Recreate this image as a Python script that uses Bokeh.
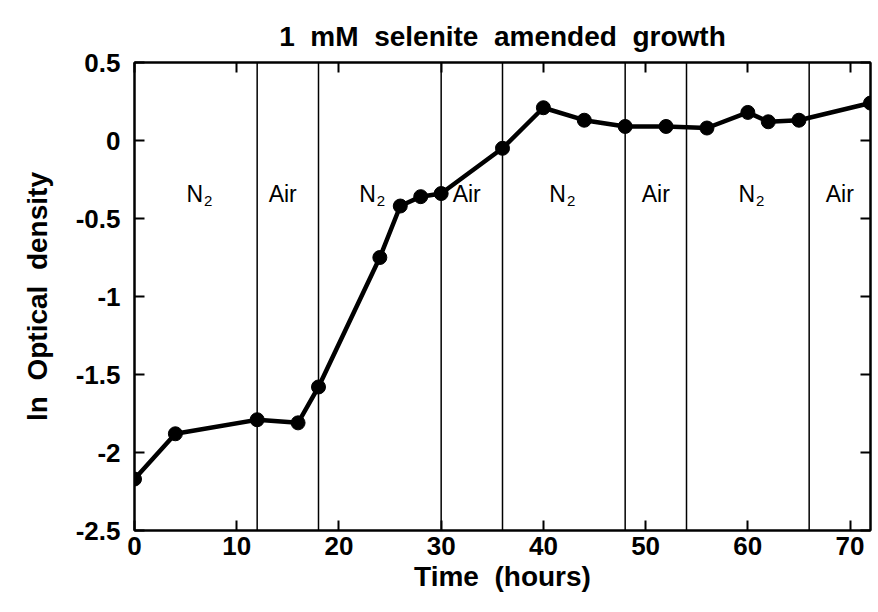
from bokeh.plotting import figure
from bokeh.models import Range1d, FixedTicker, LinearAxis, ColumnDataSource
from bokeh.core.properties import value
from bokeh.embed import file_html
from bokeh.resources import INLINE

time_h = [0, 4, 12, 16, 18, 24, 26, 28, 30, 36, 40, 44, 48, 52, 56, 60, 62, 65, 72]
ln_od = [-2.17, -1.88, -1.79, -1.81, -1.58, -0.75, -0.42, -0.36, -0.34, -0.05,
         0.21, 0.13, 0.09, 0.09, 0.08, 0.18, 0.12, 0.13, 0.24]
boundaries = [12, 18, 30, 36, 48, 54, 66]
n2_label_x = [6.7, 23.6, 42.2, 60.7]      # right edge of "N"
air_label_x = [14.5, 32.5, 51.0, 69.0]    # centre of "Air"
zone_label_y = -0.34
x_ticks = [0, 10, 20, 30, 40, 50, 60, 70]
y_ticks = [0.5, 0, -0.5, -1, -1.5, -2, -2.5]
y_tick_labels = ["0.5", "0", "-0.5", "-1", "-1.5", "-2", "-2.5"]

FONT = "Liberation Sans"
SP = "\u00a0\u00a0"

p = figure(width=872, height=600, output_backend="svg", toolbar_location=None,
           x_range=Range1d(0, 72), y_range=Range1d(-2.5, 0.5),
           min_border_left=134, min_border_right=2, min_border_top=62, min_border_bottom=70,
           title=SP.join(["1", "mM", "selenite", "amended", "growth"]))
p.title.align = "center"
p.title.text_font = FONT
p.title.text_font_size = "28px"
p.title.text_font_style = "bold"
p.title.text_color = "black"
p.title.standoff = 22
p.grid.visible = False
p.outline_line_color = "black"
p.outline_line_width = 2

for ax in (p.xaxis[0], p.yaxis[0]):
    ax.major_tick_in = 10
    ax.major_tick_out = 0
    ax.minor_tick_line_color = None
    ax.axis_line_width = 2
    ax.major_tick_line_width = 2
    ax.major_label_text_font = FONT
    ax.major_label_text_font_size = "26px"
    ax.major_label_text_font_style = "bold"
    ax.major_label_text_color = "black"
    ax.axis_label_text_font = FONT
    ax.axis_label_text_font_size = "28px"
    ax.axis_label_text_font_style = "bold"
    ax.axis_label_text_color = "black"

p.xaxis[0].ticker = FixedTicker(ticks=x_ticks)
p.yaxis[0].ticker = FixedTicker(ticks=y_ticks)
p.yaxis[0].major_label_overrides = {t: s for t, s in zip(y_ticks, y_tick_labels)}
p.xaxis[0].axis_label = SP.join(["Time", "(hours)"])
p.yaxis[0].axis_label = SP.join(["ln", "Optical", "density"])
p.xaxis[0].major_label_standoff = 6
p.yaxis[0].major_label_standoff = 14
p.xaxis[0].axis_label_standoff = 3
p.yaxis[0].axis_label_standoff = 20

top = LinearAxis(ticker=FixedTicker(ticks=x_ticks), major_tick_in=10, major_tick_out=0,
                 minor_tick_line_color=None, major_label_text_font_size="0px",
                 axis_line_width=2, major_tick_line_width=2)
right = LinearAxis(ticker=FixedTicker(ticks=y_ticks), major_tick_in=10, major_tick_out=0,
                   minor_tick_line_color=None, major_label_text_font_size="0px",
                   axis_line_width=2, major_tick_line_width=2)
p.add_layout(top, "above")
p.add_layout(right, "right")

# zone dividers
p.segment(x0=boundaries, x1=boundaries, y0=[p.y_range.start] * len(boundaries),
          y1=[p.y_range.end] * len(boundaries), line_color="black", line_width=1.5)

# zone labels
n2 = ColumnDataSource(dict(x=n2_label_x, y=[zone_label_y] * len(n2_label_x),
                           t=["N"] * len(n2_label_x), s=["2"] * len(n2_label_x)))
air = ColumnDataSource(dict(x=air_label_x, y=[zone_label_y] * len(air_label_x),
                            t=["Air"] * len(air_label_x)))
p.text(x="x", y="y", text="t", source=n2, text_font=value(FONT), text_font_size="23px",
       text_align="right", text_baseline="alphabetic", text_color="black")
p.text(x="x", y="y", text="s", source=n2, text_font=value(FONT), text_font_size="15px",
       text_align="left", text_baseline="alphabetic", text_color="black", y_offset=7, x_offset=1)
p.text(x="x", y="y", text="t", source=air, text_font=value(FONT), text_font_size="23px",
       text_align="center", text_baseline="alphabetic", text_color="black")

p.line(time_h, ln_od, line_color="black", line_width=4.5)
p.scatter(time_h, ln_od, size=14, fill_color="black", line_color="black")

open("out.html", "w").write(file_html(p, INLINE))
